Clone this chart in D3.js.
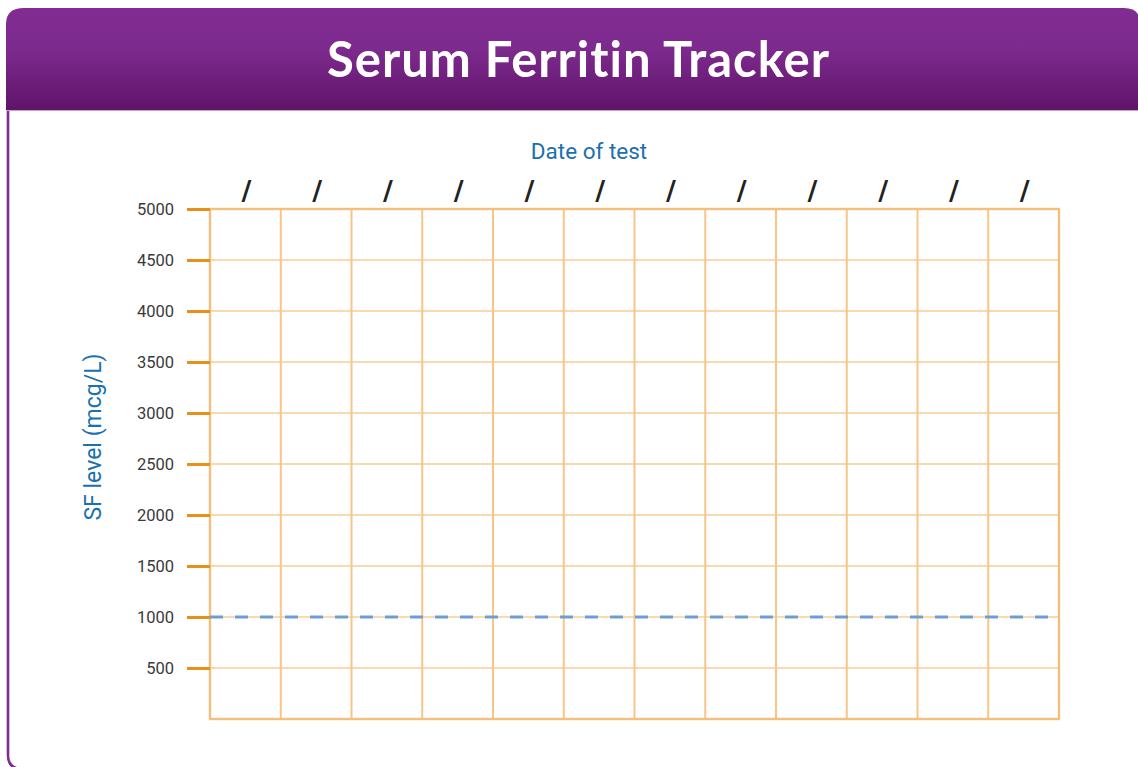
<!DOCTYPE html>
<html><head><meta charset="utf-8">
<script src="https://cdn.jsdelivr.net/npm/d3@7"></script>
<style>body{margin:0;background:#fff;}svg{display:block;}</style>
</head><body>
<svg id="c" width="1138" height="767"></svg>
<script>
const title = "Serum Ferritin Tracker";
const xTitle = "Date of test";
const yTitle = "SF level (mcg/L)";
const dates = ["/", "/", "/", "/", "/", "/", "/", "/", "/", "/", "/", "/"];
const yTicks = [500, 1000, 1500, 2000, 2500, 3000, 3500, 4000, 4500, 5000];
const yDomain = [0, 5000];
const threshold = [1000];

const svg = d3.select("#c");
const defs = svg.append("defs");
const g = defs.append("linearGradient").attr("id","hdr").attr("x1",0).attr("y1",0).attr("x2",0).attr("y2",1);
g.append("stop").attr("offset","0%").attr("stop-color","#812c91");
g.append("stop").attr("offset","40%").attr("stop-color","#7d2a8e");
g.append("stop").attr("offset","100%").attr("stop-color","#5f1468");

// card outline
svg.append("path")
  .attr("d","M8,110 L8,755 Q8,769 22,769 L1150,769")
  .attr("fill","none").attr("stroke","#7e2b8f").attr("stroke-width",2.6);
// header
svg.append("path")
  .attr("d","M6,110 L6,24 Q6,8 24,8 L1124,8 Q1138,8 1140,20 L1140,110 Z")
  .attr("fill","url(#hdr)");
svg.append("line").attr("x1",6).attr("x2",1138).attr("y1",110.5).attr("y2",110.5)
  .attr("stroke","#c9a2d3").attr("stroke-width",1.2);
svg.append("text").attr("x",578).attr("y",77).attr("text-anchor","middle")
  .attr("font-family","Lato, 'Open Sans', sans-serif").attr("font-weight","bold")
  .style("font-variant-ligatures","none")
  .attr("textLength",502).attr("lengthAdjust","spacing")
  .attr("font-size",49).attr("fill","#fff").text(title);

const pL=210, pR=1059, pT=209, pB=719;
const x = d3.scaleBand().domain(d3.range(dates.length)).range([pL,pR]).padding(0);
const y = d3.scaleLinear().domain(yDomain).range([pB,pT]);

// horizontal grid
svg.append("g").selectAll("line").data(yTicks).join("line")
  .attr("x1",pL).attr("x2",pR).attr("y1",d=>y(d)).attr("y2",d=>y(d))
  .attr("stroke","#f7cd96").attr("stroke-width",1.3);
// vertical grid
svg.append("g").selectAll("line").data(d3.range(1,dates.length)).join("line")
  .attr("x1",d=>x(d)).attr("x2",d=>x(d)).attr("y1",pT).attr("y2",pB)
  .attr("stroke","#f6c587").attr("stroke-width",2);
// border
svg.append("rect").attr("x",pL).attr("y",pT).attr("width",pR-pL).attr("height",pB-pT)
  .attr("fill","none").attr("stroke","#f3bf7e").attr("stroke-width",2.4);

// threshold dashed
svg.append("g").selectAll("line").data(threshold).join("line")
  .attr("x1",pL).attr("x2",pR).attr("y1",d=>y(d)).attr("y2",d=>y(d))
  .attr("stroke","#6f9fd2").attr("stroke-width",3).attr("stroke-dasharray","13,12");

// y axis ticks
const yAxis = d3.axisLeft(y).tickValues(yTicks).tickFormat(d3.format("d")).tickSize(23).tickPadding(13);
const ya = svg.append("g").attr("transform",`translate(${pL},0)`).call(yAxis);
ya.select(".domain").remove();
ya.selectAll(".tick line").attr("stroke","#e8901c").attr("stroke-width",3);
ya.selectAll(".tick text").attr("font-family","Roboto, 'Noto Sans', sans-serif")
  .attr("font-size",16.5).attr("fill","#3a3a3a").attr("dy","0.36em");

// date slashes
svg.append("g").selectAll("text").data(dates).join("text")
  .attr("x",(d,i)=>x(i)+x.bandwidth()/2+1).attr("y",200).attr("text-anchor","middle")
  .attr("font-family","'DejaVu Sans', sans-serif").attr("font-weight","bold")
  .attr("font-size",27).attr("fill","#222").text(d=>d);

svg.append("text").attr("x",589).attr("y",159).attr("text-anchor","middle")
  .attr("font-family","Roboto, 'Noto Sans', sans-serif").attr("font-size",22.5)
  .attr("fill","#1b70ae").text(xTitle);
svg.append("text").attr("transform","translate(101,437) rotate(-90)").attr("text-anchor","middle")
  .attr("font-family","Roboto, 'Noto Sans', sans-serif").attr("font-size",23)
  .attr("fill","#1b70ae").text(yTitle);
</script>
</body></html>
